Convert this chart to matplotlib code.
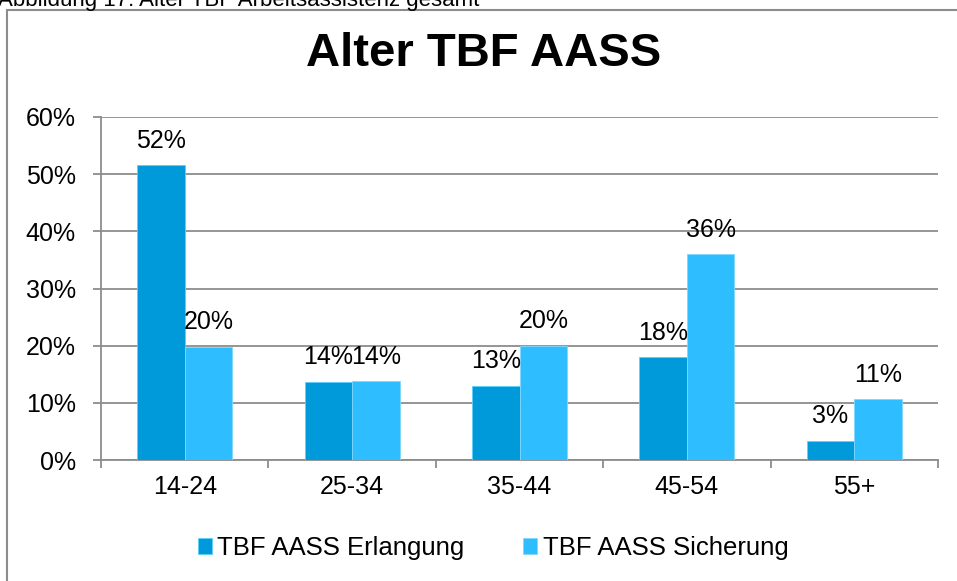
import matplotlib.pyplot as plt
from matplotlib.patches import Rectangle

categories = ['14-24', '25-34', '35-44', '45-54', '55+']
erlangung = [51.6, 13.7, 13.0, 18.0, 3.4]
sicherung = [19.8, 13.8, 20.0, 36.0, 10.6]
series_names = ['TBF AASS Erlangung', 'TBF AASS Sicherung']

plt.rcParams['font.family'] = ['Liberation Sans', 'DejaVu Sans']

W, H = 957, 581
fig = plt.figure(figsize=(W / 100, H / 100), dpi=100)

# caption above the chart frame, cut off by the top edge like in the source
fig.text(-2 / W, 1 - 6 / H, 'Abbildung 17: Alter TBF Arbeitsassistenz gesamt',
         fontsize=16, ha='left', va='baseline', color='black')

# chart frame
fig.patches.append(Rectangle((7 / W, -0.1), 1.2, 1 - 10 / H + 0.1,
                             transform=fig.transFigure, fill=False,
                             edgecolor='#8c8c8c', linewidth=1.5))

ax = fig.add_axes([101 / W, 1 - 460 / H, 837 / W, 343 / H])
x = range(len(categories))
w = 0.284
c1, c2 = '#009ADB', '#2EBEFF'
b1 = ax.bar([i - w / 2 for i in x], erlangung, w, color=c1, label=series_names[0],
            edgecolor='#5fcfff', linewidth=0.6, zorder=3)
b2 = ax.bar([i + w / 2 for i in x], sicherung, w, color=c2, label=series_names[1],
            edgecolor='#7fd8ff', linewidth=0.6, zorder=3)

for bars, vals in ((b1, erlangung), (b2, sicherung)):
    for b, v in zip(bars, vals):
        ax.annotate(f'{round(v):.0f}%', (b.get_x() + b.get_width() / 2, v),
                    xytext=(0, 9), textcoords='offset points',
                    ha='center', va='bottom', fontsize=18)

ax.set_ylim(0, 60)
ax.set_xlim(-0.5, len(categories) - 0.5)
ax.set_yticks(range(0, 61, 10))
ax.set_yticklabels([f'{t}%' for t in range(0, 61, 10)], fontsize=18)
ax.set_xticks(list(x))
ax.set_xticklabels(categories, fontsize=18)
ax.set_xticks([i - 0.5 for i in range(len(categories) + 1)], minor=True)
ax.tick_params(axis='x', which='major', length=0, pad=11)
ax.tick_params(axis='x', which='minor', length=6, color='#8c8c8c', width=1.3)
ax.tick_params(axis='y', length=6, color='#8c8c8c', width=1.3, pad=12)
ax.yaxis.grid(True, color='#8c8c8c', linewidth=1.3, zorder=0)
ax.set_axisbelow(True)
for s in ('top', 'right'):
    ax.spines[s].set_visible(False)
for s in ('left', 'bottom'):
    ax.spines[s].set_color('#8c8c8c')
    ax.spines[s].set_linewidth(1.3)

fig.text(484 / W, 1 - 54 / H, 'Alter TBF AASS', fontsize=34, fontweight='bold',
         ha='center', va='center')

fig.legend(handles=[b1, b2], loc='center', bbox_to_anchor=(493 / W, 1 - 548 / H),
           ncol=2, frameon=False, fontsize=18.5, handlelength=0.55, handleheight=0.55,
           handletextpad=0.2, columnspacing=2.3)

fig.savefig('out.png', dpi=100)
